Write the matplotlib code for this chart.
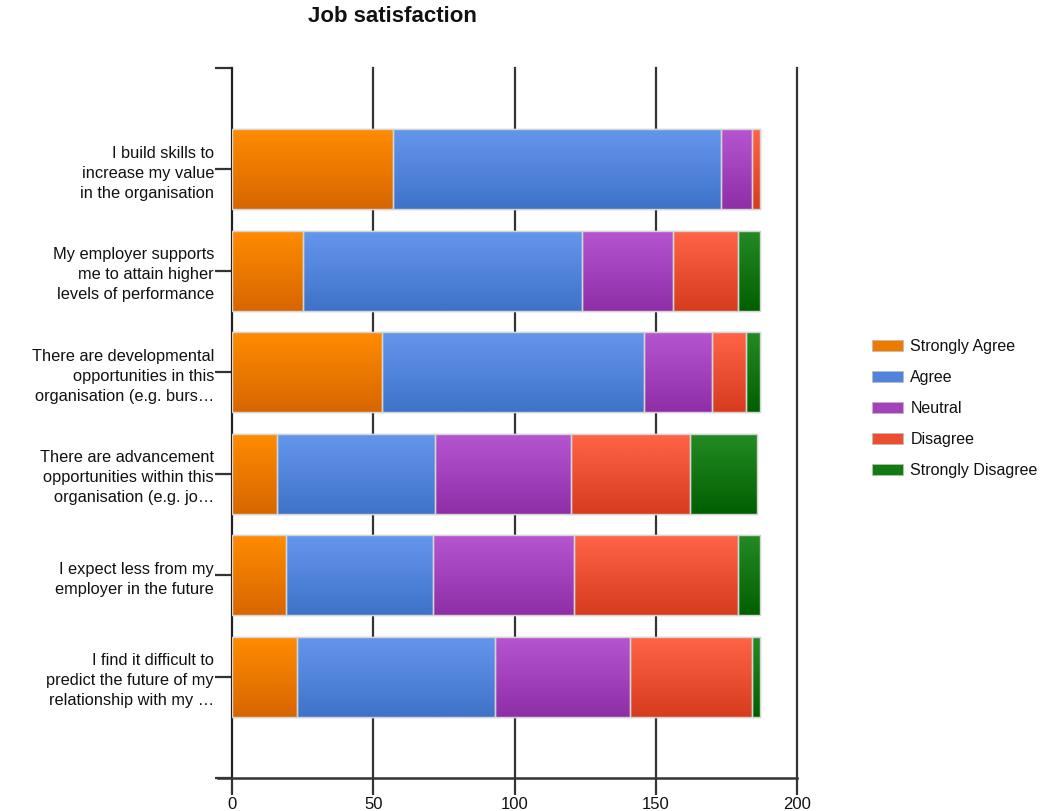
import numpy as np
import matplotlib
matplotlib.use("Agg")
import matplotlib.pyplot as plt
from matplotlib.patches import Patch
from matplotlib.lines import Line2D
from matplotlib.colors import LinearSegmentedColormap

plt.rcParams['font.family'] = ['Liberation Sans', 'DejaVu Sans']

# Survey statements (top to bottom)
statements = [
    "I build skills to\nincrease my value\nin the organisation",
    "My employer supports\nme to attain higher\nlevels of performance",
    "There are developmental\nopportunities in this\norganisation (e.g. burs\u2026",
    "There are advancement\nopportunities within this\norganisation (e.g. jo\u2026",
    "I expect less from my\nemployer in the future",
    "I find it difficult to\npredict the future of my\nrelationship with my \u2026",
]

responses = ["Strongly Agree", "Agree", "Neutral", "Disagree", "Strongly Disagree"]

strongly_agree = [57, 25, 53, 16, 19, 23]
agree = [116, 99, 93, 56, 52, 70]
neutral = [11, 32, 24, 48, 50, 48]
disagree = [3, 23, 12, 42, 58, 43]
strongly_disagree = [0, 8, 5, 24, 8, 3]

x_ticks = [0, 50, 100, 150, 200]

series = [strongly_agree, agree, neutral, disagree, strongly_disagree]

# (top colour, bottom colour) for each response gradient
gradients = [
    ("#ff8c00", "#d86600"),
    ("#6497ec", "#3f72c9"),
    ("#b655d0", "#8f2fa8"),
    ("#ff6446", "#d83c1e"),
    ("#248b24", "#006000"),
]
legend_colors = ["#ee7a00", "#4f83dc", "#a442bc", "#ec4f30", "#117a11"]

W, H = 1043, 811
fig = plt.figure(figsize=(W / 100, H / 100), dpi=100)
ax = fig.add_axes([232 / W, 33 / H, (797 - 232) / W, (778 - 68) / H])

y = np.arange(len(statements))
left = np.zeros(len(statements))
bar_h = 0.79

for vals, (c_top, c_bot) in zip(series, gradients):
    bars = ax.barh(y, vals, left=left, height=bar_h, color=c_bot,
                   edgecolor="#d4d4d4", linewidth=1.0, zorder=3)
    cmap = LinearSegmentedColormap.from_list("g", [c_top, c_bot])
    grad = np.linspace(0, 1, 64).reshape(-1, 1)
    for rect in bars:
        w = rect.get_width()
        if w <= 0:
            continue
        x0, y0, hh = rect.get_x(), rect.get_y(), rect.get_height()
        im = ax.imshow(grad, cmap=cmap, aspect="auto",
                       extent=(x0, x0 + w, y0 + hh, y0),
                       origin="upper", zorder=3.5, interpolation="bilinear")
        im.set_clip_path(rect)
        edge = plt.Rectangle((x0, y0), w, hh, fill=False,
                             edgecolor="#d4d4d4", linewidth=1.0, zorder=4)
        ax.add_patch(edge)
    left = left + np.array(vals)

ax.set_xlim(0, 200)
ax.set_ylim(6, -1)
ax.set_autoscale_on(False)

# vertical grid
for xv in x_ticks[1:]:
    ax.axvline(xv, color="#333333", linewidth=1.6, zorder=1, clip_on=False)

ax.set_xticks(x_ticks)
ax.set_xticklabels([str(v) for v in x_ticks])
ax.set_yticks(y)
ax.set_yticklabels(statements)
ax.set_yticks([-1, 6], minor=True)

for s in ["top", "right", "bottom"]:
    ax.spines[s].set_visible(False)
ax.spines["left"].set_color("#222222")
ax.spines["left"].set_linewidth(1.6)

# bottom axis line, extended slightly past the left spine
ax.add_line(Line2D([-14 / 565, 1], [0, 0], transform=ax.transAxes,
                   color="#333333", linewidth=1.8, clip_on=False, zorder=5))

ax.tick_params(axis="x", length=12, width=1.6, color="#333333",
               labelsize=12, pad=2, labelcolor="#111111")
ax.tick_params(axis="y", which="both", length=12, width=1.6, color="#333333",
               labelsize=11.8, pad=1, labelcolor="#111111")
for lbl in ax.get_yticklabels():
    lbl.set_linespacing(1.42)

fig.text(392 / W, 1 - 17 / H, "Job satisfaction", ha="center", va="center",
         fontsize=16, fontweight="bold", color="#111111")

handles = [Patch(facecolor=c, edgecolor="#bbbbbb", linewidth=0.6) for c in legend_colors]
fig.legend(handles, responses, loc="upper left",
           bbox_to_anchor=(872 / W, 1 - 339 / H), frameon=False,
           borderpad=0, borderaxespad=0, fontsize=11.5,
           handlelength=1.95, handleheight=0.7, handletextpad=0.45,
           labelspacing=1.0, labelcolor="#111111")

fig.savefig("out.png", dpi=100)
